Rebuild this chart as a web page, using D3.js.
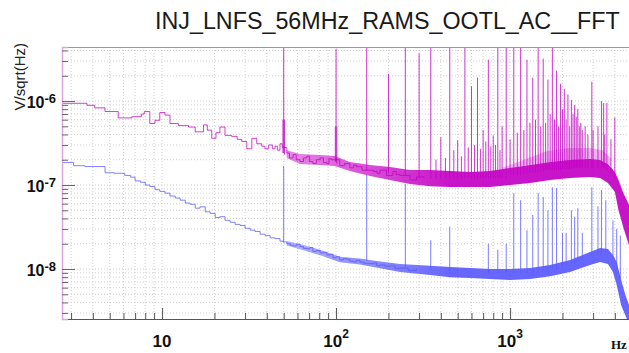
<!DOCTYPE html>
<html>
<head>
<meta charset="utf-8">
<script src="https://cdn.jsdelivr.net/npm/d3@7"></script>
<style>
  html, body { margin: 0; padding: 0; background: #fff; }
  svg { display: block; }
</style>
</head>
<body>
<div id="chart"></div>
<script>
// Chart data
const title = 'INJ_LNFS_56MHz_RAMS_OOTL_AC__FFT';
const yTitle = 'V/sqrt(Hz)';
const xUnit = 'Hz';

const xDomain = [2.66, 5580];
const yDomain = [2.54e-9, 4.4e-6];
const xTickValues = [10, 100, 1000];
const xTickExponents = ['', '2', '3'];
const yTickValues = [1e-8, 1e-7, 1e-6];
const yTickExponents = ['-8', '-7', '-6'];

// magenta trace: thin stepped line at low frequency [Hz, V/sqrt(Hz)]
const magentaTrace = [
  [2.66, 9.4e-7], [3.7, 8.9e-7], [4.1, 8.3e-7], [4.7, 7.5e-7], [5.6, 6.3e-7],
  [6.7, 6.5e-7], [7.6, 7.0e-7], [7.9, 7.5e-7], [8.5, 5.4e-7], [9.1, 5.9e-7],
  [9.7, 7.3e-7], [10.4, 6.8e-7], [11.1, 5.4e-7], [12.4, 5.1e-7], [14.2, 4.9e-7],
  [15.5, 4.3e-7], [17.3, 5.2e-7], [18.2, 4.5e-7], [19.3, 3.6e-7], [20.4, 4.2e-7],
  [21.5, 4.9e-7], [23.0, 3.9e-7], [25.1, 3.8e-7], [27.0, 3.5e-7], [28.7, 3.3e-7],
  [30.7, 2.7e-7], [32.8, 3.6e-7], [35.0, 3.1e-7], [37.4, 2.9e-7], [39.0, 2.7e-7],
  [41.0, 3.0e-7], [43.0, 2.7e-7], [44.6, 2.9e-7], [46.0, 2.6e-7], [47.6, 3.1e-7],
  [49.0, 2.8e-7], [52.1, 2.4e-7], [54.0, 2.1e-7], [56.6, 2.3e-7], [59.0, 2.0e-7],
  [62.1, 1.9e-7], [65.0, 2.1e-7], [67.9, 2.2e-7], [70.5, 1.9e-7], [73.6, 1.8e-7],
  [77.0, 2.0e-7], [81, 2.1e-7], [84.5, 1.85e-7], [88.5, 1.8e-7], [91.0, 2.05e-7],
  [94.4, 2.0e-7], [105, 1.7e-7], [112, 1.8e-7], [120, 1.6e-7], [126, 1.72e-7],
  [131, 1.65e-7], [141, 1.5e-7], [164, 1.45e-7], [172, 1.38e-7], [179, 1.5e-7],
  [195, 1.3e-7], [212, 1.45e-7], [222, 1.33e-7], [233, 1.3e-7], [266, 1.15e-7],
  [290, 1.25e-7], [320, 1.2e-7]
];
// magenta noise band [Hz, low, high]
const magentaBand = [
  [52, 2.1e-7, 2.6e-7], [62, 1.78e-7, 2.34e-7], [81, 1.73e-7, 2.28e-7],
  [98, 1.68e-7, 2.22e-7], [120, 1.47e-7, 1.88e-7], [157, 1.28e-7, 1.73e-7],
  [204, 1.15e-7, 1.64e-7], [266, 1.03e-7, 1.51e-7], [347, 9.7e-8, 1.51e-7],
  [452, 9.5e-8, 1.47e-7], [589, 9.5e-8, 1.43e-7], [767, 9.5e-8, 1.47e-7],
  [1000, 1.0e-7, 1.6e-7], [1303, 1.06e-7, 1.73e-7], [1697, 1.15e-7, 1.88e-7],
  [2211, 1.21e-7, 1.98e-7], [2881, 1.25e-7, 2.04e-7], [3289, 1.21e-7, 1.98e-7],
  [3650, 1.06e-7, 1.78e-7], [4000, 8.3e-8, 1.43e-7], [4200, 5.0e-8, 1.15e-7],
  [4480, 3.1e-8, 8.0e-8], [4830, 1.9e-8, 5.8e-8], [5580, 8e-9, 3e-8]
];
// light fringe above the magenta band
const magentaFringe = [
  [900, 1.5e-7, 1.6e-7], [1200, 1.7e-7, 2.0e-7], [1600, 1.85e-7, 2.5e-7],
  [2200, 1.95e-7, 2.76e-7], [2900, 2.0e-7, 2.76e-7], [3400, 1.95e-7, 2.6e-7],
  [3800, 1.7e-7, 2.1e-7]
];
// magenta lines [Hz, base, top]
const magentaSpikes = [
  [50, 2.4e-7, 6e-6], [49.5, 2.4e-7, 6e-7], [50.5, 2.3e-7, 6e-7],
  [100, 1.9e-7, 4.2e-6], [99, 1.9e-7, 5e-7], [101, 1.8e-7, 5e-7],
  [150, 1.5e-7, 6e-6], [200, 1.4e-7, 2.1e-6],
  [250, 1.3e-7, 6e-6], [300, 1.2e-7, 3.7e-6], [350, 1.2e-7, 6e-6], [400, 1.2e-7, 3.7e-7],
  [450, 1.2e-7, 6e-6], [500, 1.2e-7, 3.4e-7], [550, 1.2e-7, 6e-6], [600, 1.2e-7, 1.5e-6],
  [650, 1.2e-7, 1.9e-6], [700, 1.2e-7, 4.5e-7], [750, 1.2e-7, 3.1e-6], [800, 1.2e-7, 3.9e-7],
  [850, 1.2e-7, 6e-6], [900, 1.2e-7, 5e-7], [950, 1.2e-7, 6e-6], [1050, 1.3e-7, 6e-6],
  [1150, 1.3e-7, 6e-6], [1250, 1.35e-7, 3.1e-6], [1350, 1.4e-7, 1.9e-6], [1450, 1.4e-7, 6e-6],
  [1550, 1.45e-7, 3.2e-6], [1650, 1.5e-7, 1.8e-6], [1750, 1.5e-7, 6e-6], [1850, 1.5e-7, 2.3e-6],
  [1950, 1.5e-7, 1.6e-6], [2050, 1.55e-7, 1.4e-6], [2150, 1.55e-7, 1.2e-6], [2250, 1.55e-7, 1.03e-6],
  [2350, 1.6e-7, 9e-7], [2450, 1.6e-7, 8e-7], [2550, 1.6e-7, 5.5e-7], [2700, 1.6e-7, 5e-7],
  [2950, 1.6e-7, 1.7e-6], [3350, 1.6e-7, 1.0e-6], [3450, 1.6e-7, 9.5e-7], [3600, 1.5e-7, 9.5e-7],
  [4000, 1.2e-7, 6.4e-7],
  // shorter lines in the dense part
  [375, 1.2e-7, 2.0e-7], [425, 1.2e-7, 2.1e-7], [475, 1.2e-7, 2.6e-7], [525, 1.2e-7, 2.2e-7],
  [575, 1.2e-7, 2.8e-7], [625, 1.2e-7, 3.0e-7], [675, 1.2e-7, 2.7e-7], [725, 1.2e-7, 3.3e-7],
  [775, 1.2e-7, 2.9e-7], [825, 1.2e-7, 3.0e-7], [875, 1.2e-7, 2.6e-7], [1000, 1.3e-7, 3.5e-7],
  [1100, 1.3e-7, 4.2e-7], [1200, 1.35e-7, 4.5e-7], [1300, 1.4e-7, 5.5e-7], [1400, 1.4e-7, 6e-7],
  [1500, 1.45e-7, 5e-7], [1600, 1.5e-7, 5.5e-7], [1700, 1.5e-7, 7e-7], [1800, 1.5e-7, 6e-7],
  [1900, 1.5e-7, 5e-7], [2000, 1.55e-7, 8e-7], [2100, 1.55e-7, 6e-7], [2200, 1.55e-7, 5e-7],
  [2300, 1.6e-7, 7e-7], [2400, 1.6e-7, 6.5e-7], [2500, 1.6e-7, 5e-7], [2600, 1.6e-7, 4.5e-7],
  [2800, 1.6e-7, 4e-7], [3000, 1.6e-7, 4.5e-7], [3200, 1.6e-7, 5e-7], [3500, 1.6e-7, 4e-7],
  [3800, 1.4e-7, 3.5e-7]
];

// blue trace
const blueTrace = [
  [2.66, 1.85e-7], [3.1, 1.7e-7], [3.6, 1.66e-7], [4.7, 1.4e-7], [5.3, 1.38e-7],
  [6.1, 1.3e-7], [6.6, 1.24e-7], [7.0, 1.12e-7], [7.5, 1.08e-7], [8.0, 1.0e-7],
  [8.5, 9.6e-8], [9.1, 8.8e-8], [9.7, 8.4e-8], [10.4, 8.0e-8], [11.1, 7.4e-8],
  [11.9, 7.0e-8], [12.7, 6.6e-8], [13.6, 6.1e-8], [14.5, 5.9e-8], [15.5, 5.3e-8],
  [16.5, 5.5e-8], [17.7, 4.8e-8], [18.9, 4.6e-8], [20.2, 4.1e-8], [21.5, 4.2e-8],
  [23.0, 3.8e-8], [24.6, 3.6e-8], [26.3, 3.4e-8], [28.1, 3.3e-8], [30.0, 3.05e-8],
  [32.1, 2.9e-8], [34.2, 2.8e-8], [36.6, 2.6e-8], [39.1, 2.5e-8], [41.8, 2.35e-8],
  [44.6, 2.3e-8], [47.6, 2.15e-8], [49.5, 2.1e-8], [52.1, 2.0e-8], [54.5, 1.92e-8],
  [56.6, 1.88e-8], [59.0, 1.97e-8], [62.1, 1.85e-8], [65.0, 1.76e-8], [67.9, 1.74e-8],
  [70.5, 1.8e-8], [73.6, 1.62e-8], [77.0, 1.66e-8], [81, 1.55e-8], [84.5, 1.58e-8],
  [88.5, 1.47e-8], [92.0, 1.5e-8], [96, 1.36e-8], [100, 1.4e-8], [105, 1.28e-8],
  [110, 1.33e-8], [115, 1.31e-8], [120, 1.24e-8], [125, 1.22e-8], [131, 1.27e-8],
  [137, 1.21e-8], [145, 1.16e-8], [163, 1.18e-8], [171, 1.1e-8], [179, 1.12e-8],
  [191, 1.08e-8], [204, 1.09e-8], [218, 1.02e-8], [233, 1.03e-8], [260, 9.6e-9],
  [290, 1.0e-8]
];
const blueBand = [
  [52, 1.9e-8, 2.15e-8], [62, 1.72e-8, 1.98e-8], [81, 1.46e-8, 1.7e-8],
  [105, 1.2e-8, 1.4e-8], [137, 1.13e-8, 1.33e-8], [179, 1.02e-8, 1.23e-8],
  [233, 9.2e-9, 1.15e-8], [347, 8.5e-9, 1.09e-8], [452, 8.0e-9, 1.06e-8],
  [589, 7.8e-9, 1.03e-8], [767, 7.6e-9, 1.0e-8], [1000, 7.4e-9, 1.0e-8],
  [1303, 7.6e-9, 1.03e-8], [1697, 8.2e-9, 1.12e-8], [2211, 9.2e-9, 1.28e-8],
  [2881, 1.12e-8, 1.59e-8], [3289, 1.21e-8, 1.78e-8], [3650, 1.15e-8, 1.73e-8],
  [3900, 9.2e-9, 1.47e-8], [4100, 6.45e-9, 1.21e-8], [4350, 3.7e-9, 7.4e-9],
  [4600, 2.8e-9, 4.9e-9], [4830, 2.2e-9, 3.7e-9]
];
const blueSpikes = [
  [50, 2.1e-8, 1.68e-7], [150, 1.25e-8, 1.32e-7], [250, 1.05e-8, 1.03e-7], [350, 1.0e-8, 2.2e-8],
  [450, 9.5e-9, 3.2e-8], [750, 9e-9, 2.0e-8], [850, 9e-9, 1.7e-8], [950, 9e-9, 2.0e-8],
  [1050, 9e-9, 8.0e-8], [1150, 9e-9, 6.6e-8], [1250, 9e-9, 2.9e-8], [1350, 9e-9, 4.4e-8],
  [1450, 9e-9, 8.0e-8], [1550, 9.5e-9, 7.2e-8], [1650, 9.5e-9, 5.0e-8], [1750, 1.0e-8, 9.4e-8],
  [1850, 1.0e-8, 9.2e-8], [2000, 1.05e-8, 2.7e-8], [2100, 1.1e-8, 2.7e-8], [2250, 1.1e-8, 5.0e-8],
  [2350, 1.15e-8, 4.2e-8], [2450, 1.2e-8, 5.3e-8], [2600, 1.25e-8, 2.7e-8], [2950, 1.4e-8, 9.4e-8],
  [3200, 1.5e-8, 5.6e-8], [3350, 1.5e-8, 8.7e-8], [3550, 1.5e-8, 6.6e-8], [3900, 1.3e-8, 3.8e-8],
  [4100, 1.0e-8, 3.0e-8], [4300, 7e-9, 2.5e-8]
];

const magenta = '#c400c4';
const blue = '#5a5aff';

const width = 629, height = 353;
const margin = { top: 47, left: 62, bottom: 34 };
const plotRight = 640; // frame runs past the right edge of the picture
const plotBottom = height - margin.bottom;

const svg = d3.select('#chart')
  .append('svg')
  .attr('width', width)
  .attr('height', height)
  .style('font-family', '"Liberation Sans", Arial, sans-serif');

const x = d3.scaleLog().domain(xDomain).range([margin.left, plotRight]);
const y = d3.scaleLog().domain(yDomain).range([plotBottom, margin.top]);

const defs = svg.append('defs');
defs.append('clipPath').attr('id', 'plot-clip')
  .append('rect')
  .attr('x', margin.left).attr('y', margin.top)
  .attr('width', plotRight - margin.left).attr('height', plotBottom - margin.top);

// band fill is lighter where the noise is still sparse
const addFade = (id, color) => {
  const grad = defs.append('linearGradient')
    .attr('id', id)
    .attr('gradientUnits', 'userSpaceOnUse')
    .attr('x1', x(50)).attr('x2', x(450))
    .attr('y1', 0).attr('y2', 0);
  grad.append('stop').attr('offset', '0%').attr('stop-color', color).attr('stop-opacity', 0.45);
  grad.append('stop').attr('offset', '100%').attr('stop-color', color).attr('stop-opacity', 0.92);
};
addFade('fade-magenta', magenta);
addFade('fade-blue', blue);

// Grid (dotted, on every decade subdivision)
const grid = svg.append('g')
  .attr('stroke', '#c4c4c4')
  .attr('stroke-width', 0.8)
  .attr('stroke-dasharray', '1,2');

grid.selectAll('.gx')
  .data(x.ticks())
  .join('line')
  .attr('x1', d => x(d)).attr('x2', d => x(d))
  .attr('y1', margin.top).attr('y2', plotBottom);

grid.selectAll('.gy')
  .data(y.ticks())
  .join('line')
  .attr('x1', margin.left).attr('x2', plotRight)
  .attr('y1', d => y(d)).attr('y2', d => y(d));

const plot = svg.append('g').attr('clip-path', 'url(#plot-clip)');

const area = d3.area()
  .x(d => x(d[0]))
  .y0(d => y(d[1]))
  .y1(d => y(d[2]));

const line = d3.line()
  .x(d => x(d[0]))
  .y(d => y(d[1]))
  .curve(d3.curveStepAfter);

const drawSeries = (trace, band, spikes, color, fadeId) => {
  plot.append('g')
    .selectAll('line')
    .data(spikes)
    .join('line')
    .attr('x1', d => x(d[0])).attr('x2', d => x(d[0]))
    .attr('y1', d => y(d[1])).attr('y2', d => y(d[2]))
    .attr('stroke', color)
    .attr('stroke-opacity', 0.8)
    .attr('stroke-width', 1);

  plot.append('path')
    .datum(band)
    .attr('fill', `url(#${fadeId})`)
    .attr('d', area);

  plot.append('path')
    .datum(trace)
    .attr('fill', 'none')
    .attr('stroke', color)
    .attr('stroke-opacity', 0.75)
    .attr('stroke-width', 1)
    .attr('d', line);
};

drawSeries(blueTrace, blueBand, blueSpikes, blue, 'fade-blue');

plot.append('path')
  .datum(magentaFringe)
  .attr('fill', '#e27ee2')
  .attr('fill-opacity', 0.6)
  .attr('d', area);

drawSeries(magentaTrace, magentaBand, magentaSpikes, magenta, 'fade-magenta');

// Frame
svg.append('line')
  .attr('x1', margin.left).attr('x2', plotRight)
  .attr('y1', margin.top + 0.5).attr('y2', margin.top + 0.5)
  .attr('stroke', '#9a9a9a');

// Bottom axis: minor and major ticks pointing up
const xMinor = x.ticks().filter(d => !xTickValues.includes(d));
svg.append('g')
  .attr('transform', `translate(0,${plotBottom})`)
  .call(d3.axisBottom(x).tickValues(xMinor).tickSize(-6).tickFormat(''))
  .call(g => g.select('.domain').attr('stroke', '#555'))
  .call(g => g.selectAll('.tick line').attr('stroke', '#555'));

svg.append('g')
  .attr('transform', `translate(0,${plotBottom})`)
  .call(d3.axisBottom(x).tickValues(xTickValues).tickSize(-11).tickFormat(''))
  .call(g => g.select('.domain').remove())
  .call(g => g.selectAll('.tick line').attr('stroke', '#555'));

// Left axis: ticks pointing right
const yMinor = y.ticks().filter(d => !yTickValues.includes(d));
svg.append('g')
  .attr('transform', `translate(${margin.left},0)`)
  .call(d3.axisLeft(y).tickValues(yMinor).tickSize(-6).tickFormat(''))
  .call(g => g.select('.domain').attr('stroke', '#dca6dc').attr('stroke-width', 1.5))
  .call(g => g.selectAll('.tick line').attr('stroke', '#666'));

svg.append('g')
  .attr('transform', `translate(${margin.left},0)`)
  .call(d3.axisLeft(y).tickValues(yTickValues).tickSize(-13).tickFormat(''))
  .call(g => g.select('.domain').remove())
  .call(g => g.selectAll('.tick line').attr('stroke', '#666'));

// Tick labels with superscript exponents
const xLabels = svg.append('g')
  .attr('font-weight', 'bold')
  .attr('fill', '#111')
  .selectAll('text')
  .data(xTickValues)
  .join('text')
  .attr('x', d => x(d))
  .attr('y', plotBottom + 28)
  .attr('text-anchor', 'middle')
  .attr('font-size', 17);

xLabels.append('tspan').text('10');
xLabels.append('tspan')
  .attr('font-size', 12)
  .attr('dy', -9)
  .text((d, i) => xTickExponents[i]);

const yLabels = svg.append('g')
  .attr('font-weight', 'bold')
  .attr('fill', '#111')
  .selectAll('text')
  .data(yTickValues)
  .join('text')
  .attr('x', margin.left - 6)
  .attr('y', d => y(d) + 7)
  .attr('text-anchor', 'end')
  .attr('font-size', 16);

yLabels.append('tspan').text('10');
yLabels.append('tspan')
  .attr('font-size', 13)
  .attr('dy', -5)
  .text((d, i) => yTickExponents[i]);

// Titles
svg.append('text')
  .attr('x', 155)
  .attr('y', 29)
  .attr('font-size', 23.3)
  .attr('fill', '#1a1a1a')
  .text(title);

svg.append('text')
  .attr('transform', `translate(25,43) rotate(-90)`)
  .attr('text-anchor', 'end')
  .attr('font-size', 15)
  .attr('fill', '#222')
  .text(yTitle);

svg.append('text')
  .attr('x', 611)
  .attr('y', 349)
  .attr('font-family', '"Liberation Serif", serif')
  .attr('font-weight', 'bold')
  .attr('font-size', 13)
  .attr('fill', '#111')
  .text(xUnit);
</script>
</body>
</html>
